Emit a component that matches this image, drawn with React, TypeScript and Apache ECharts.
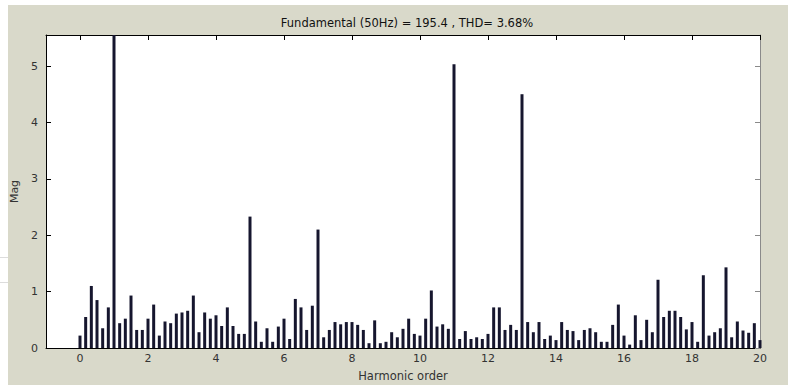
import React, { useEffect, useRef } from "react";
import * as echarts from "echarts";

// FFT analysis window: spectrum of the signal, bins every 1/6 of the 50 Hz order
const titleText = "Fundamental (50Hz) = 195.4 , THD= 3.68%";
const xAxisTitle = "Harmonic order";
const yAxisTitle = "Mag";

// Bin resolution (in harmonic orders) of the spectrum
const binStep = 1 / 6;

// Magnitude of each bin, % of fundamental (bin 6 is the fundamental itself)
const magnitudes: number[] = [
  0.22, 0.55, 1.1, 0.85, 0.35, 0.72, 100, 0.44, 0.52, 0.93, 0.32, 0.32,
  0.52, 0.77, 0.22, 0.47, 0.44, 0.61, 0.63, 0.66, 0.93, 0.28, 0.63, 0.52,
  0.58, 0.39, 0.72, 0.39, 0.25, 0.25, 2.33, 0.47, 0.11, 0.35, 0.11, 0.38,
  0.52, 0.16, 0.87, 0.72, 0.32, 0.75, 2.1, 0.19, 0.32, 0.46, 0.42, 0.46,
  0.46, 0.41, 0.32, 0.085, 0.49, 0.085, 0.11, 0.28, 0.19, 0.34, 0.52, 0.25,
  0.22, 0.52, 1.02, 0.38, 0.42, 0.34, 5.03, 0.16, 0.3, 0.16, 0.19, 0.16,
  0.25, 0.72, 0.72, 0.32, 0.41, 0.32, 4.5, 0.46, 0.28, 0.46, 0.16, 0.22,
  0.14, 0.46, 0.32, 0.3, 0.14, 0.32, 0.35, 0.28, 0.11, 0.11, 0.41, 0.77,
  0.22, 0.06, 0.58, 0.14, 0.5, 0.28, 1.21, 0.55, 0.66, 0.66, 0.55, 0.33,
  0.46, 0.11, 1.29, 0.22, 0.28, 0.35, 1.43, 0.19, 0.47, 0.31, 0.27, 0.44,
  0.14,
];

const xTicks = [0, 2, 4, 6, 8, 10, 12, 14, 16, 18, 20];
const yTicks = [0, 1, 2, 3, 4, 5];

const FONT = "'DejaVu Sans', Verdana, sans-serif";
const PANEL_BG = "#d9d9ca";

export default function App() {
  const ref = useRef<HTMLDivElement>(null);

  useEffect(() => {
    document.body.style.margin = "0";
    if (!ref.current) return;
    const chart = echarts.init(ref.current, undefined, { renderer: "svg" });

    const points = magnitudes.map((v, i) => [i * binStep, v]);

    const line = (color: string) => ({ show: true, onZero: false, lineStyle: { color, width: 1 } });
    const tick = (values: number[], color = "#000") => ({
      show: true,
      inside: true,
      length: 5,
      customValues: values,
      lineStyle: { color, width: 1 },
    });
    const label = (values: number[]) => ({
      show: true,
      customValues: values,
      color: "#333",
      fontSize: 11,
      fontFamily: FONT,
    });

    chart.setOption({
      animation: false,
      backgroundColor: PANEL_BG,
      title: {
        text: titleText,
        left: 394,
        top: 7,
        textAlign: "center",
        textStyle: { fontFamily: FONT, fontSize: 11.5, fontWeight: "normal", color: "#111" },
      },
      grid: {
        left: 38,
        top: 30,
        right: 28,
        bottom: 37,
        containLabel: false,
        outerBoundsMode: "none",
        show: true,
        backgroundColor: "#fff",
        borderWidth: 0,
      },
      xAxis: [
        {
          type: "value",
          position: "bottom",
          min: -1,
          max: 20,
          axisLine: line("#000"),
          axisTick: tick(xTicks),
          axisLabel: { ...label(xTicks), margin: 5 },
          splitLine: { show: false },
          name: xAxisTitle,
          nameLocation: "middle",
          nameGap: 22,
          nameTextStyle: { color: "#333", fontSize: 11.5, fontFamily: FONT },
        },
        {
          type: "value",
          position: "top",
          min: -1,
          max: 20,
          axisLine: line("#000"),
          axisTick: tick(xTicks),
          axisLabel: { show: false },
          splitLine: { show: false },
        },
      ],
      yAxis: [
        {
          type: "value",
          position: "left",
          min: 0,
          max: 5.55,
          axisLine: line("#000"),
          axisTick: tick(yTicks),
          axisLabel: { ...label(yTicks), margin: 8 },
          splitLine: { show: false },
          name: yAxisTitle,
          nameLocation: "middle",
          nameGap: 22,
          nameRotate: 90,
          nameTextStyle: { color: "#333", fontSize: 11, fontFamily: FONT },
        },
        {
          type: "value",
          position: "right",
          min: 0,
          max: 5.55,
          axisLine: line("#8a8a8a"),
          axisTick: tick(yTicks, "#8a8a8a"),
          axisLabel: { show: false },
          splitLine: { show: false },
        },
      ],
      series: [
        {
          type: "bar",
          xAxisIndex: 0,
          yAxisIndex: 0,
          data: points,
          barWidth: 3,
          clip: true,
          itemStyle: { color: "#16162e" },
        },
      ],
    });

    return () => chart.dispose();
  }, []);

  return (
    <div style={{ position: "relative", width: 788, height: 385, background: "#fff", overflow: "hidden" }}>
      <div style={{ position: "absolute", left: 0, top: 257, width: 8, height: 1, background: "#dcdcdc" }} />
      <div style={{ position: "absolute", left: 0, top: 282, width: 8, height: 1, background: "#dcdcdc" }} />
      <div ref={ref} style={{ position: "absolute", left: 8, top: 5, width: 780, height: 380 }} />
    </div>
  );
}
